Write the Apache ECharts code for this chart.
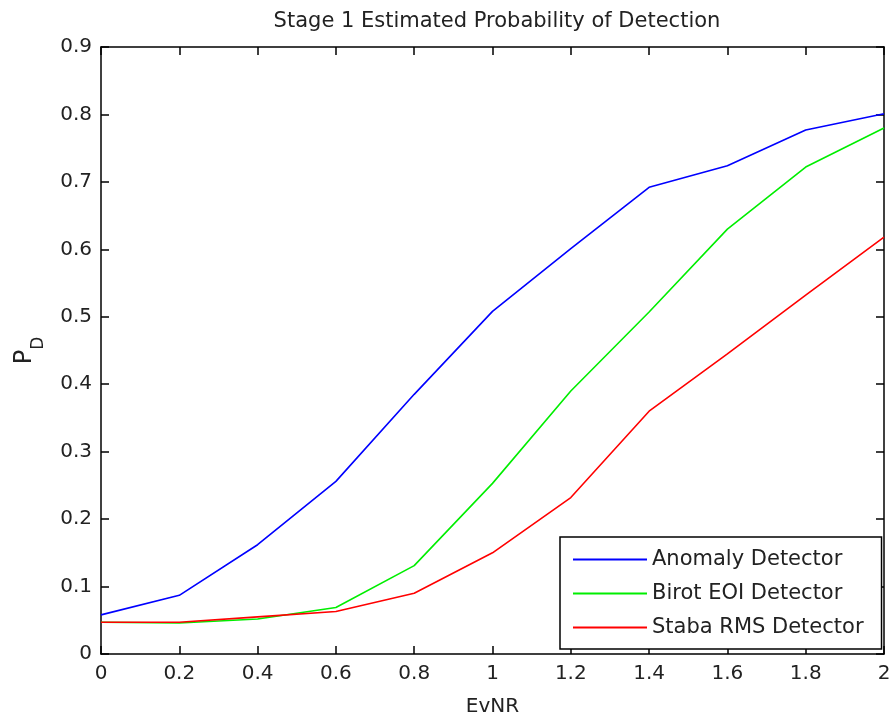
<!DOCTYPE html>
<html>
<head>
<meta charset="utf-8">
<script src="https://cdn.jsdelivr.net/npm/echarts@6/dist/echarts.min.js"></script>
<style>
  html, body { margin: 0; padding: 0; background: #fff; }
  #chart { width: 890px; height: 721px; }
</style>
</head>
<body>
<div id="chart"></div>
<script>
// EvNR steps and the estimated P_D
const evnr = [0, 0.2, 0.4, 0.6, 0.8, 1, 1.2, 1.4, 1.6, 1.8, 2];
const anomaly = [0.058, 0.087, 0.162, 0.256, 0.385, 0.508, 0.601, 0.692, 0.724, 0.777, 0.801];
const birot = [0.047, 0.046, 0.052, 0.069, 0.131, 0.253, 0.390, 0.507, 0.630, 0.722, 0.780];
const staba = [0.047, 0.047, 0.055, 0.063, 0.090, 0.150, 0.232, 0.360, 0.445, 0.532, 0.618];

const xTicks = [0, 0.2, 0.4, 0.6, 0.8, 1, 1.2, 1.4, 1.6, 1.8, 2];
const yTicks = [0, 0.1, 0.2, 0.3, 0.4, 0.5, 0.6, 0.7, 0.8, 0.9];

const FONT = "DejaVu Sans";
const INK = "#222";

const pairs = ys => evnr.map((x, i) => [x, ys[i]]);

const line = (name, color, ys) => ({
  name,
  type: "line",
  data: pairs(ys),
  showSymbol: false,
  symbol: "none",
  lineStyle: { color, width: 1.6 },
  itemStyle: { color },
  animation: false
});

const tick = { show: true, inside: true, length: 8, lineStyle: { color: "#000", width: 1.5 } };
const axisLine = { show: true, onZero: false, lineStyle: { color: "#000", width: 1.5 } };

const xBase = {
  type: "value",
  min: xTicks[0],
  max: xTicks[xTicks.length - 1],
  interval: 0.2,
  axisLine,
  axisTick: tick,
  splitLine: { show: false }
};
const yBase = {
  type: "value",
  min: yTicks[0],
  max: yTicks[yTicks.length - 1],
  interval: 0.1,
  axisLine,
  axisTick: tick,
  splitLine: { show: false }
};

const chart = echarts.init(document.getElementById("chart"));
chart.setOption({
  animation: false,
  backgroundColor: "#fff",
  title: {
    text: "Stage 1 Estimated Probability of Detection",
    left: 492,
    top: 6,
    textAlign: "center",
    textStyle: { fontFamily: FONT, fontSize: 21, fontWeight: "normal", color: INK }
  },
  grid: {
    left: 101, top: 47, width: 783, height: 607,
    containLabel: false,
    outerBoundsMode: "none"
  },
  legend: {
    orient: "vertical",
    left: 560,
    top: 537,
    padding: [12, 18, 11, 13],
    itemGap: 13,
    itemWidth: 74,
    itemHeight: 2,
    icon: "rect",
    borderColor: "#000",
    borderWidth: 1.5,
    borderRadius: 0,
    backgroundColor: "#fff",
    textStyle: { fontFamily: FONT, fontSize: 21, color: INK, lineHeight: 21 },
    data: ["Anomaly Detector", "Birot EOI Detector", "Staba RMS Detector"]
  },
  xAxis: [
    Object.assign({}, xBase, {
      position: "bottom",
      name: "EvNR",
      nameLocation: "middle",
      nameGap: 43,
      nameTextStyle: { fontFamily: FONT, fontSize: 20, color: INK },
      axisLabel: { fontFamily: FONT, fontSize: 20, color: INK, margin: 10 }
    }),
    Object.assign({}, xBase, { position: "top", axisLabel: { show: false } })
  ],
  yAxis: [
    Object.assign({}, yBase, {
      position: "left",
      name: "{p|P}{d|D}",
      nameLocation: "middle",
      nameGap: 54,
      nameRotate: 90,
      nameTextStyle: {
        fontFamily: FONT,
        color: INK,
        rich: {
          p: { fontFamily: FONT, fontSize: 24, color: INK, lineHeight: 34, verticalAlign: "top" },
          d: { fontFamily: FONT, fontSize: 17, color: INK, lineHeight: 34, verticalAlign: "bottom" }
        }
      },
      axisLabel: { fontFamily: FONT, fontSize: 20, color: INK, margin: 9 }
    }),
    Object.assign({}, yBase, { position: "right", axisLabel: { show: false } })
  ],
  series: [
    line("Anomaly Detector", "#0000ff", anomaly),
    line("Birot EOI Detector", "#00ee00", birot),
    line("Staba RMS Detector", "#ff0000", staba)
  ]
});
</script>
</body>
</html>
